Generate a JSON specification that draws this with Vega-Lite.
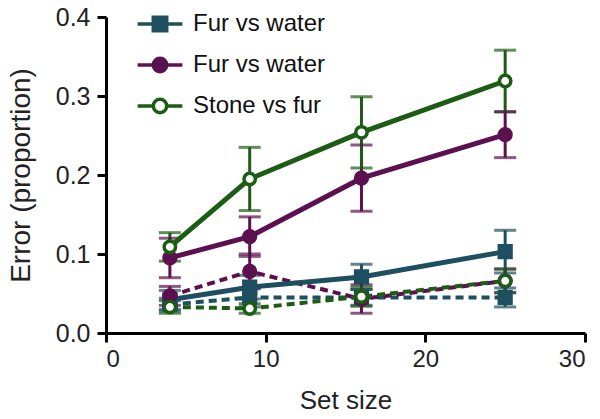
{
  "$schema": "https://vega.github.io/schema/vega-lite/v6.json",
  "width": 479,
  "height": 316,
  "autosize": "none",
  "padding": {"left": 106, "top": 17, "right": 15, "bottom": 86},
  "background": "white",
  "config": {
    "font": "Liberation Sans",
    "view": {"stroke": null},
    "axis": {
      "grid": false,
      "domainColor": "black",
      "domainWidth": 3,
      "tickColor": "black",
      "tickWidth": 3,
      "tickSize": 9,
      "labelColor": "#222",
      "titleFontWeight": "normal",
      "titleColor": "#222",
      "labelFont": "Liberation Sans",
      "titleFont": "Liberation Sans"
    }
  },
  "data": {
    "values": [
      {"series": "A", "style": "solid", "x": 4, "y": 0.042, "lo": 0.030, "hi": 0.054},
      {"series": "A", "style": "solid", "x": 9, "y": 0.058, "lo": 0.043, "hi": 0.073},
      {"series": "A", "style": "solid", "x": 16, "y": 0.071, "lo": 0.055, "hi": 0.087},
      {"series": "A", "style": "solid", "x": 25, "y": 0.103, "lo": 0.076, "hi": 0.130},
      {"series": "B", "style": "solid", "x": 4, "y": 0.095, "lo": 0.070, "hi": 0.120},
      {"series": "B", "style": "solid", "x": 9, "y": 0.122, "lo": 0.097, "hi": 0.147},
      {"series": "B", "style": "solid", "x": 16, "y": 0.196, "lo": 0.154, "hi": 0.238},
      {"series": "B", "style": "solid", "x": 25, "y": 0.251, "lo": 0.222, "hi": 0.280},
      {"series": "C", "style": "solid", "x": 4, "y": 0.109, "lo": 0.091, "hi": 0.127},
      {"series": "C", "style": "solid", "x": 9, "y": 0.195, "lo": 0.155, "hi": 0.235},
      {"series": "C", "style": "solid", "x": 16, "y": 0.254, "lo": 0.209, "hi": 0.299},
      {"series": "C", "style": "solid", "x": 25, "y": 0.319, "lo": 0.280, "hi": 0.358},
      {"series": "A", "style": "dashed", "x": 4, "y": 0.036, "lo": 0.028, "hi": 0.044},
      {"series": "A", "style": "dashed", "x": 9, "y": 0.045, "lo": 0.033, "hi": 0.057},
      {"series": "A", "style": "dashed", "x": 16, "y": 0.045, "lo": 0.035, "hi": 0.055},
      {"series": "A", "style": "dashed", "x": 25, "y": 0.045, "lo": 0.033, "hi": 0.057},
      {"series": "B", "style": "dashed", "x": 4, "y": 0.047, "lo": 0.035, "hi": 0.059},
      {"series": "B", "style": "dashed", "x": 9, "y": 0.078, "lo": 0.056, "hi": 0.100},
      {"series": "B", "style": "dashed", "x": 16, "y": 0.043, "lo": 0.025, "hi": 0.061},
      {"series": "B", "style": "dashed", "x": 25, "y": 0.066, "lo": 0.051, "hi": 0.081},
      {"series": "C", "style": "dashed", "x": 4, "y": 0.033, "lo": 0.025, "hi": 0.041},
      {"series": "C", "style": "dashed", "x": 9, "y": 0.031, "lo": 0.025, "hi": 0.037},
      {"series": "C", "style": "dashed", "x": 16, "y": 0.046, "lo": 0.034, "hi": 0.058},
      {"series": "C", "style": "dashed", "x": 25, "y": 0.066, "lo": 0.051, "hi": 0.081}
    ]
  },
  "layer": [
    {
      "transform": [{"filter": "datum.style === 'solid'"}],
      "mark": {"type": "point", "filled": true, "opacity": 0},
      "encoding": {
        "x": {
          "field": "x", "type": "quantitative",
          "scale": {"domain": [0, 30], "nice": false},
          "axis": {"values": [0, 10, 20, 30], "title": "Set size", "labelFontSize": 24, "titleFontSize": 26, "labelPadding": 5, "titlePadding": 16}
        },
        "y": {
          "field": "y", "type": "quantitative",
          "scale": {"domain": [0, 0.4], "nice": false},
          "axis": {"values": [0, 0.1, 0.2, 0.3, 0.4], "format": ".1f", "title": "Error (proportion)", "labelFontSize": 25, "titleFontSize": 28, "labelPadding": 7, "titlePadding": 20}
        },
        "stroke": {
          "field": "series", "type": "nominal",
          "scale": {"domain": ["A", "B", "C"], "range": ["#1d4f60", "#5c1050", "#1c5c14"]},
          "legend": {
            "title": null,
            "orient": "none",
            "legendX": 41,
            "legendY": -6,
            "symbolSize": 500,
            "symbolStrokeWidth": 3.5,
            "symbolOpacity": 1,
            "labelFontSize": 24,
            "labelColor": "#111",
            "labelOffset": 20,
            "rowPadding": 13,
            "labelExpr": "datum.value === 'C' ? 'Stone vs fur' : 'Fur vs water'"
          }
        },
        "shape": {
          "field": "series", "type": "nominal",
          "scale": {"domain": ["A", "B", "C"], "range": [
            "M-2,0H2M-0.6,-0.6H0.6V0.6H-0.6ZM-0.33,-0.33H0.33V0.33H-0.33ZM-0.08,-0.08H0.08V0.08H-0.08Z",
            "M-2,0H2M-0.6,0A0.6,0.6,0,1,0,0.6,0A0.6,0.6,0,1,0,-0.6,0ZM-0.33,0A0.33,0.33,0,1,0,0.33,0A0.33,0.33,0,1,0,-0.33,0ZM-0.08,0A0.08,0.08,0,1,0,0.08,0A0.08,0.08,0,1,0,-0.08,0Z",
            "M-2,0H-0.6M0.6,0H2M-0.6,0A0.6,0.6,0,1,0,0.6,0A0.6,0.6,0,1,0,-0.6,0Z"
          ]}
        },
        "fill": {
          "field": "series", "type": "nominal",
          "scale": {"domain": ["A", "B", "C"], "range": ["#1d4f60", "#5c1050", "white"]}
        }
      }
    },
    {
      "mark": {"type": "rule", "strokeWidth": 3},
      "encoding": {
        "x": {"field": "x", "type": "quantitative"},
        "y": {"field": "lo", "type": "quantitative"},
        "y2": {"field": "hi"},
        "stroke": {"field": "series", "type": "nominal"}
      }
    },
    {
      "mark": {"type": "tick", "orient": "horizontal", "size": 22, "thickness": 3},
      "encoding": {
        "x": {"field": "x", "type": "quantitative"},
        "y": {"field": "lo", "type": "quantitative"},
        "color": {"field": "series", "type": "nominal", "legend": null, "scale": {"domain": ["A", "B", "C"], "range": ["#1d4f60", "#5c1050", "#1c5c14"]}}
      }
    },
    {
      "mark": {"type": "tick", "orient": "horizontal", "size": 22, "thickness": 3},
      "encoding": {
        "x": {"field": "x", "type": "quantitative"},
        "y": {"field": "hi", "type": "quantitative"},
        "color": {"field": "series", "type": "nominal", "legend": null}
      }
    },
    {
      "transform": [{"filter": "datum.style === 'dashed'"}],
      "mark": {"type": "line", "strokeWidth": 4, "strokeDash": [8, 5]},
      "encoding": {
        "x": {"field": "x", "type": "quantitative"},
        "y": {"field": "y", "type": "quantitative"},
        "detail": {"field": "style"},
        "stroke": {"field": "series", "type": "nominal"}
      }
    },
    {
      "transform": [{"filter": "datum.style === 'solid'"}],
      "mark": {"type": "line", "strokeWidth": 5},
      "encoding": {
        "x": {"field": "x", "type": "quantitative"},
        "y": {"field": "y", "type": "quantitative"},
        "detail": {"field": "style"},
        "stroke": {"field": "series", "type": "nominal"}
      }
    },
    {
      "transform": [{"filter": "datum.series === 'A'"}],
      "mark": {"type": "point", "shape": "square", "filled": false, "fill": "#1d4f60", "strokeWidth": 3, "opacity": 1, "size": 150},
      "encoding": {
        "x": {"field": "x", "type": "quantitative"},
        "y": {"field": "y", "type": "quantitative"},
        "stroke": {"field": "series", "type": "nominal"}
      }
    },
    {
      "transform": [{"filter": "datum.series === 'B'"}],
      "mark": {"type": "point", "shape": "circle", "filled": false, "fill": "#5c1050", "strokeWidth": 3, "opacity": 1, "size": 150},
      "encoding": {
        "x": {"field": "x", "type": "quantitative"},
        "y": {"field": "y", "type": "quantitative"},
        "stroke": {"field": "series", "type": "nominal"}
      }
    },
    {
      "transform": [{"filter": "datum.series === 'C'"}],
      "mark": {"type": "point", "shape": "circle", "filled": false, "fill": "white", "strokeWidth": 3.5, "opacity": 1, "size": 130},
      "encoding": {
        "x": {"field": "x", "type": "quantitative"},
        "y": {"field": "y", "type": "quantitative"},
        "stroke": {"field": "series", "type": "nominal"}
      }
    }
  ]
}
